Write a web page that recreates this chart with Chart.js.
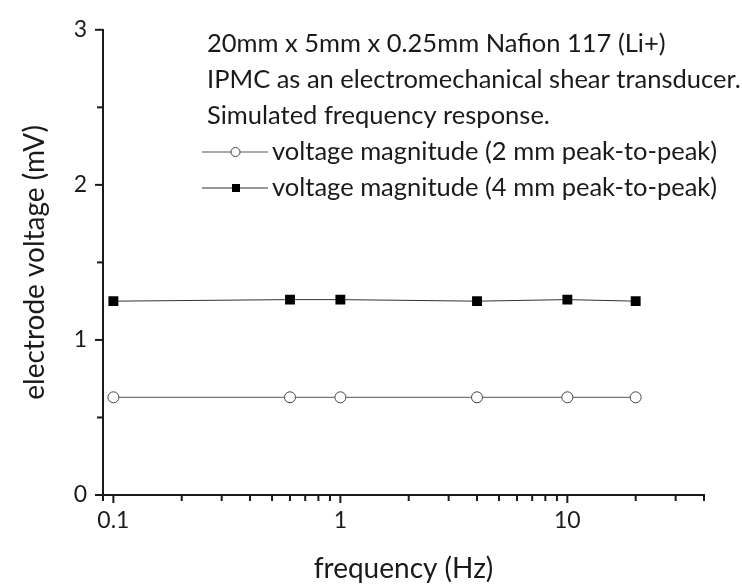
<!DOCTYPE html>
<html>
<head>
<meta charset="utf-8">
<script src="https://cdn.jsdelivr.net/npm/chart.js@4/dist/chart.umd.min.js"></script>
<style>
html, body { margin: 0; padding: 0; background: #fff; }
#wrap { width: 742px; height: 586px; position: relative; }
</style>
</head>
<body>
<div id="wrap"><canvas id="chart"></canvas></div>
<script>
// frequency sweep points (Hz) and simulated electrode voltage (mV)
const freq = [0.1, 0.6, 1, 4, 10, 20]
const volt2mm = [0.63, 0.63, 0.63, 0.63, 0.63, 0.63]
const volt4mm = [1.25, 1.26, 1.26, 1.25, 1.26, 1.25]

const seriesNames = [
  "voltage magnitude (2 mm peak-to-peak)",
  "voltage magnitude (4 mm peak-to-peak)"
]
const noteLines = [
  "20mm x 5mm x 0.25mm Nafion 117 (Li+)",
  "IPMC as an electromechanical shear transducer.",
  "Simulated frequency response."
]

// log axis: every minor step gets a mark, only decades get a label
const xTicks = [0.09, 0.1, 0.2, 0.3, 0.4, 0.5, 0.6, 0.7, 0.8, 0.9,
  1, 2, 3, 4, 5, 6, 7, 8, 9, 10, 20, 30, 40]
const xLabels = [0.1, 1, 10]
const yTicks = [0, 0.5, 1, 1.5, 2, 2.5, 3]
const yLabels = [0, 1, 2, 3]

const ink = "#1a1a1a"
const family = "Lato"

// short outward tick marks, longer on labelled values
const tickMarks = {
  id: "tickMarks",
  afterDraw(chart) {
    const {ctx, chartArea: a, scales: {x, y}} = chart
    ctx.save()
    ctx.strokeStyle = ink
    ctx.lineWidth = 2
    x.ticks.forEach(t => {
      const px = x.getPixelForValue(t.value)
      const len = xLabels.includes(t.value) ? 8 : 6
      ctx.beginPath()
      ctx.moveTo(px, a.bottom)
      ctx.lineTo(px, a.bottom + len)
      ctx.stroke()
    })
    y.ticks.forEach(t => {
      const py = y.getPixelForValue(t.value)
      const len = yLabels.includes(t.value) ? 8 : 6
      ctx.beginPath()
      ctx.moveTo(a.left, py)
      ctx.lineTo(a.left - len, py)
      ctx.stroke()
    })
    ctx.restore()
  }
}

// description text and legend in the upper right
const notes = {
  id: "notes",
  afterDraw(chart) {
    const ctx = chart.ctx
    const left = 207
    const top = 44
    const step = 36
    ctx.save()
    ctx.fillStyle = ink
    ctx.font = "25.5px " + family
    ctx.textBaseline = "middle"
    ctx.textAlign = "left"
    noteLines.forEach((s, i) => ctx.fillText(s, left, top + i * step))

    chart.data.datasets.forEach((ds, i) => {
      const cy = top + (noteLines.length + i) * step
      ctx.strokeStyle = ds.borderColor
      ctx.lineWidth = 1
      ctx.beginPath()
      ctx.moveTo(202, cy)
      ctx.lineTo(268, cy)
      ctx.stroke()
      ctx.fillStyle = ds.pointBackgroundColor
      ctx.strokeStyle = ds.pointBorderColor
      if (ds.pointStyle === "rect") {
        ctx.fillRect(232, cy - 4, 8, 8)
      } else {
        ctx.beginPath()
        ctx.arc(235.5, cy, 4.5, 0, Math.PI * 2)
        ctx.fill()
        ctx.stroke()
      }
      ctx.fillStyle = ink
      ctx.fillText(ds.label, 272, cy)
    })
    ctx.restore()
  }
}

new Chart(document.getElementById("chart"), {
  type: "line",
  data: {
    datasets: [
      {
        label: seriesNames[0],
        data: freq.map((f, i) => ({x: f, y: volt2mm[i]})),
        borderColor: "#555",
        borderWidth: 1,
        pointStyle: "circle",
        pointRadius: 5.5,
        pointBackgroundColor: "#fff",
        pointBorderColor: "#444",
        pointBorderWidth: 1
      },
      {
        label: seriesNames[1],
        data: freq.map((f, i) => ({x: f, y: volt4mm[i]})),
        borderColor: "#333",
        borderWidth: 1,
        pointStyle: "rect",
        pointRadius: 7,
        pointBackgroundColor: "#000",
        pointBorderColor: "#000",
        pointBorderWidth: 0
      }
    ]
  },
  options: {
    responsive: true,
    maintainAspectRatio: false,
    animation: false,
    layout: {padding: {top: 19, right: 38, left: 0, bottom: 0}},
    plugins: {legend: {display: false}, tooltip: {enabled: false}},
    scales: {
      x: {
        type: "logarithmic",
        min: 0.09,
        max: 40,
        afterBuildTicks: s => { s.ticks = xTicks.map(v => ({value: v, major: xLabels.includes(v)})) },
        afterFit: s => { s.height = 91 },
        grid: {display: false, drawTicks: false},
        border: {display: true, color: ink, width: 2},
        ticks: {
          autoSkip: false, maxRotation: 0, padding: 12, color: ink,
          font: {family: family, size: 23},
          callback: v => xLabels.includes(v) ? String(v) : ""
        },
        title: {
          display: true, text: "frequency (Hz)", color: ink,
          font: {family: family, size: 28}, padding: {top: 0, bottom: 0}
        }
      },
      y: {
        min: 0,
        max: 3,
        afterBuildTicks: s => { s.ticks = yTicks.map(v => ({value: v})) },
        afterFit: s => { s.width = 103 },
        grid: {display: false, drawTicks: false},
        border: {display: true, color: ink, width: 2},
        ticks: {
          autoSkip: false, padding: 16, color: ink,
          font: {family: family, size: 23},
          callback: v => yLabels.includes(v) ? String(v) : ""
        },
        title: {
          display: true, text: "electrode voltage (mV)", color: ink,
          font: {family: family, size: 28}, padding: {top: 18, bottom: 0}
        }
      }
    }
  },
  plugins: [tickMarks, notes]
})
</script>
</body>
</html>
